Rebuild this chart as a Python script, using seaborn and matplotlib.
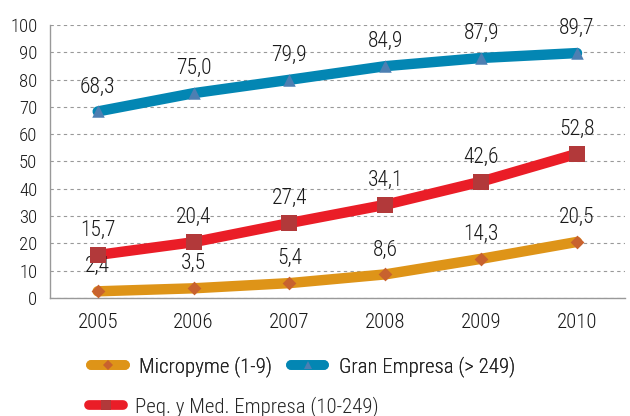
import matplotlib
matplotlib.use('Agg')
import matplotlib.pyplot as plt
import seaborn as sns
import pandas as pd
from matplotlib.lines import Line2D

years = ['2005', '2006', '2007', '2008', '2009', '2010']
micro = [2.4, 3.5, 5.4, 8.6, 14.3, 20.5]
pyme = [15.7, 20.4, 27.4, 34.1, 42.6, 52.8]
gran = [68.3, 75.0, 79.9, 84.9, 87.9, 89.7]

names = ['Micropyme (1-9)', 'Peq. y Med. Empresa (10-249)', 'Gran Empresa (> 249)']
line_colors = ['#DE9418', '#EA1D27', '#0386B3']
marker_colors = ['#C8622E', '#B2393A', '#4D7FB2']
markers = ['D', 's', '^']
msizes = [7, 11, 9]

sns.set_theme(style='white')
plt.rcParams['font.family'] = ['Roboto Condensed', 'DejaVu Sans']
plt.rcParams['font.weight'] = 'light'

df = pd.DataFrame({'year': years * 3,
                   'value': micro + pyme + gran,
                   'serie': [n for n in names for _ in years]})

fig = plt.figure(figsize=(6.3, 4.16), dpi=100)
ax = fig.add_axes([0.079, 0.284, 0.913, 0.656])

for i, name in enumerate(names):
    sub = df[df['serie'] == name]
    sns.lineplot(data=sub, x='year', y='value', ax=ax, color=line_colors[i],
                 linewidth=7.5, sort=False, solid_capstyle='round', legend=False)
    sns.scatterplot(data=sub, x='year', y='value', ax=ax, color=marker_colors[i],
                    marker=markers[i], s=msizes[i] ** 2, linewidth=0, zorder=5, legend=False)
    for x, v in enumerate(sub['value']):
        ax.annotate(f'{v:.1f}'.replace('.', ','), (x, v), xytext=(0, 10),
                    textcoords='offset points', ha='center', va='bottom',
                    fontsize=15.5, color='#1a1a1a')

ax.set_ylim(0, 100)
ax.set_xlim(-0.5, 5.45)
ax.set_yticks(range(0, 101, 10))
ax.yaxis.grid(True, linestyle=(0, (3, 3)), color='#999999', linewidth=0.8)
ax.set_axisbelow(True)
ax.set_xlabel('')
ax.set_ylabel('')
ax.tick_params(axis='x', labelsize=15, colors='#1a1a1a')
ax.tick_params(axis='y', labelsize=13.5, colors='#1a1a1a')
ax.tick_params(axis='x', which='major', length=0, pad=11)
ax.set_xticks([i + 0.5 for i in range(-1, 6)], minor=True)
ax.tick_params(axis='x', which='minor', length=6, color='#999999', direction='out')
ax.tick_params(axis='y', length=3, color='#999999', pad=6)
for s in ['top', 'right']:
    ax.spines[s].set_visible(False)
for s in ['left', 'bottom']:
    ax.spines[s].set_color('#999999')
    ax.spines[s].set_linewidth(1)


def handle(i):
    return Line2D([0], [0], color=line_colors[i], linewidth=7, solid_capstyle='round',
                  marker=markers[i], markersize=msizes[i] * 0.7,
                  markerfacecolor=marker_colors[i], markeredgewidth=0)


leg1 = fig.legend([handle(0), handle(2)], [names[0], names[2]], ncol=2,
                  loc='center left', bbox_to_anchor=(0.115, 0.12), frameon=False,
                  fontsize=15, handlelength=1.6, columnspacing=0.9, handletextpad=0.7)
leg2 = fig.legend([handle(1)], [names[1]], loc='center left',
                  bbox_to_anchor=(0.112, 0.024), frameon=False,
                  fontsize=15, handlelength=1.6, handletextpad=0.6)
fig.add_artist(leg1)

fig.savefig('out.png', dpi=100)
